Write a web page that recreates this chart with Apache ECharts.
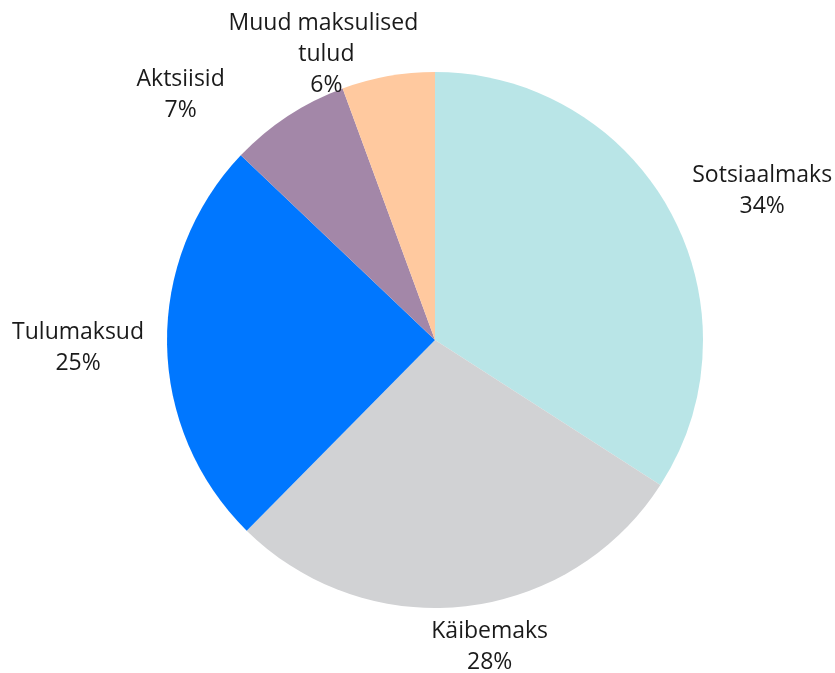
<!DOCTYPE html>
<html>
<head>
<meta charset="utf-8">
<script src="https://cdn.jsdelivr.net/npm/echarts@6/dist/echarts.min.js"></script>
<style>
  html, body { margin: 0; padding: 0; background: #fff; }
  #chart { width: 835px; height: 673px; }
</style>
</head>
<body>
<div id="chart"></div>
<script>
// andmed (loetud pildilt)
const categories = ['Sotsiaalmaks', 'Käibemaks', 'Tulumaksud', 'Aktsiisid', 'Muud maksulised tulud']
const shares = [34.1, 28.3, 24.7, 7.3, 5.6]
const colors = ['#b9e5e7', '#d1d2d4', '#0077ff', '#a387a8', '#ffc99f']

// sildi nihked (Exceli paigutuse järgi)
const nudges = [[34, -3], [18, 5], [-23, 3], [-71, 9], [-46, 27]]

const chart = echarts.init(document.getElementById('chart'))

chart.setOption({
  animation: false,
  series: [{
    type: 'pie',
    center: [435, 340],
    radius: 268,
    startAngle: 90,
    clockwise: true,
    percentPrecision: 0,
    avoidLabelOverlap: false,
    label: {
      show: true,
      position: 'outside',
      formatter: '{b}\n{d}%',
      fontFamily: 'Open Sans',
      fontSize: 23,
      lineHeight: 31,
      color: '#1a1a1a',
      align: 'center',
      width: 205,
      overflow: 'break'
    },
    labelLine: { show: false, length: 10, length2: 0 },
    labelLayout(params) {
      const p = params.labelLinePoints
      if (!p) return {}
      let dx = p[1][0] - p[0][0]
      let dy = p[1][1] - p[0][1]
      const len = Math.sqrt(dx * dx + dy * dy) || 1
      dx /= len
      dy /= len
      const gap = 10
      const w = params.dataIndex === 4 ? 160 : 112
      const h = params.dataIndex === 4 ? 78 : 52
      const n = nudges[params.dataIndex] || [0, 0]
      return {
        x: p[0][0] + dx * gap + dx * w / 2 + n[0],
        y: p[0][1] + dy * gap + dy * h / 2 + n[1],
        align: 'center',
        verticalAlign: 'middle'
      }
    },
    emphasis: { disabled: true },
    data: categories.map((name, i) => ({
      name: name,
      value: shares[i],
      itemStyle: { color: colors[i] }
    }))
  }]
})
</script>
</body>
</html>
